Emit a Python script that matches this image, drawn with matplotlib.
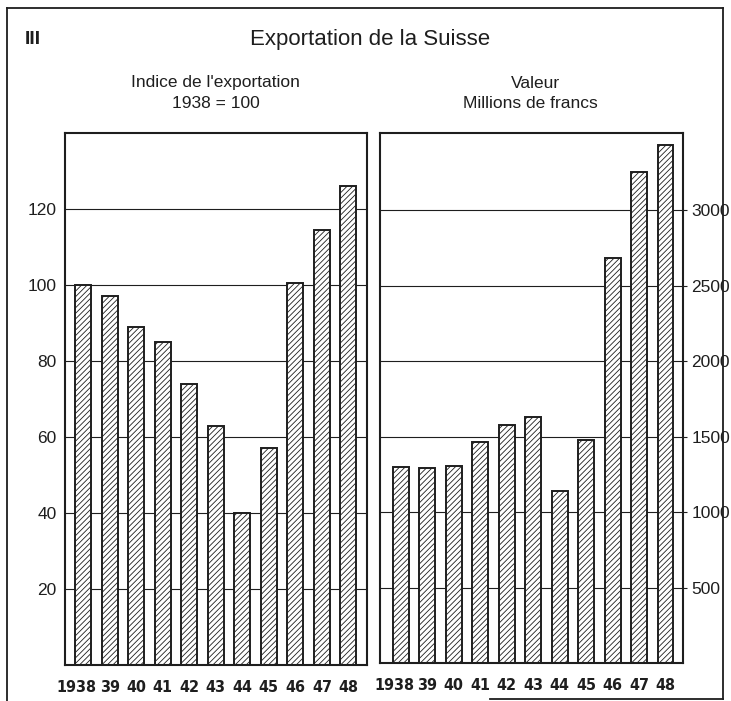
import matplotlib
matplotlib.use("Agg")
import matplotlib.pyplot as plt
from matplotlib import font_manager
from matplotlib.font_manager import FontProperties
from matplotlib.lines import Line2D
from matplotlib.transforms import ScaledTranslation

years = ["1938", "39", "40", "41", "42", "43", "44", "45", "46", "47", "48"]
index_values = [100, 97, 89, 85, 74, 63, 40, 57, 100.5, 114.5, 126]
value_mfr = [1300, 1292, 1305, 1463, 1575, 1629, 1140, 1475, 2680, 3250, 3432]
left_ticks = [20, 40, 60, 80, 100, 120]
right_ticks = [500, 1000, 1500, 2000, 2500, 3000]

plt.rcParams["font.family"] = ["Liberation Sans", "DejaVu Sans"]
plt.rcParams["hatch.linewidth"] = 0.6
ink = "#1e1e1e"

# condensed face for year labels if one is installed
xl_props = dict(family=["Liberation Sans", "DejaVu Sans"], fontsize=10.5, fontweight="bold")
try:
    fp = FontProperties(family="DejaVu Sans", stretch="condensed", weight="bold")
    path = font_manager.findfont(fp, fallback_to_default=False)
    if "Condensed" in path:
        xl_props = dict(family=["DejaVu Sans"], fontstretch="condensed",
                        fontsize=11.5, fontweight="bold")
except Exception:
    pass

fig = plt.figure(figsize=(7.31, 7.01), dpi=100)
fig.patch.set_facecolor("white")

W, H = 731, 701
def rect(x0, x1, ytop, ybot):
    return [x0 / W, (H - ybot) / H, (x1 - x0) / W, (ybot - ytop) / H]

axL = fig.add_axes(rect(65, 367, 133, 665))
axR = fig.add_axes(rect(380, 683, 133, 663))

xs = list(range(len(years)))
for ax, vals, ticks, ylim, xlim, shift in [
    (axL, index_values, left_ticks, 140, (-0.68, 10.7), -7),
    (axR, value_mfr, right_ticks, 3510, (-0.79, 10.66), -6),
]:
    for t in ticks:
        ax.axhline(t, color=ink, lw=0.8, zorder=1)
    ax.bar(xs, vals, width=0.6, facecolor="white", edgecolor=ink,
           linewidth=1.4, hatch="//////", zorder=2)
    ax.set_ylim(0, ylim)
    ax.set_xlim(*xlim)
    ax.set_yticks(ticks)
    ax.set_yticklabels([str(t) for t in ticks])
    ax.set_xticks(xs)
    ax.set_xticklabels(years, color=ink, **xl_props)
    ax.tick_params(axis="x", length=0, pad=11)
    first = ax.get_xticklabels()[0]
    first.set_transform(first.get_transform() +
                        ScaledTranslation(shift / 100, 0, fig.dpi_scale_trans))
    for s in ax.spines.values():
        s.set_linewidth(1.5)
        s.set_color(ink)

axL.tick_params(axis="y", length=0, pad=6, labelsize=12.5, labelcolor=ink)
axR.yaxis.tick_right()
axR.tick_params(axis="y", length=3, width=0.8, pad=3, labelsize=12.5,
                labelcolor=ink, color=ink)

def ftext(x, y, s, **kw):
    fig.text(x / W, 1 - y / H, s, color=ink, va="center", **kw)

ftext(370, 40, "Exportation de la Suisse", ha="center", fontsize=16)
ftext(25, 40, "III", ha="left", fontsize=14, fontweight="bold")
ftext(215, 83, "Indice de l'exportation", ha="center", fontsize=12.5)
ftext(216, 103, "1938 = 100", ha="center", fontsize=12.5)
ftext(535, 83, "Valeur", ha="center", fontsize=12.5)
ftext(530, 103, "Millions de francs", ha="center", fontsize=12.5)

# scanned page frame
def fline(x0, y0, x1, y1, lw=1.3):
    fig.add_artist(Line2D([x0 / W, x1 / W], [1 - y0 / H, 1 - y1 / H],
                          color=ink, lw=lw))
fline(7, 8, 7, 701)
fline(7, 8, 723, 8)
fline(723, 8, 723, 699)
fline(490, 699, 723, 699)

fig.savefig("out.png", dpi=100, facecolor="white")
